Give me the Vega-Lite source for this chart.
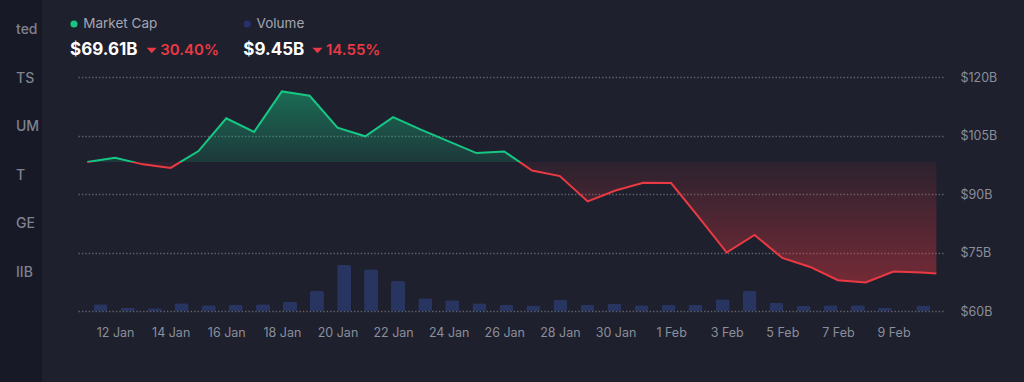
{
  "$schema": "https://vega.github.io/schema/vega-lite/v6.json",
  "background": "#1e202d",
  "padding": {"left": 0, "top": 0, "right": 28, "bottom": 0},
  "bounds": "flush",
  "spacing": 36,
  "config": {
    "view": {"stroke": null},
    "font": "Inter",
    "text": {"font": "Inter"}
  },
  "datasets": {
    "sidebar": [
      {"label": "ted"}, {"label": "TS"}, {"label": "UM"}, {"label": "T"}, {"label": "GE"}, {"label": "IIB"}
    ],
    "header": [
      {"series": "Market Cap", "value": "$69.61B", "change": "30.40%"},
      {"series": "Volume", "value": "$9.45B", "change": "14.55%"}
    ],
    "mcap": [
      {"date": "2025-01-11T00:00", "mcap": 98.2},
      {"date": "2025-01-12T00:00", "mcap": 99.3},
      {"date": "2025-01-13T00:00", "mcap": 97.6},
      {"date": "2025-01-14T00:00", "mcap": 96.7},
      {"date": "2025-01-15T00:00", "mcap": 101.0},
      {"date": "2025-01-16T00:00", "mcap": 109.4},
      {"date": "2025-01-17T00:00", "mcap": 105.9},
      {"date": "2025-01-18T00:00", "mcap": 116.3},
      {"date": "2025-01-19T00:00", "mcap": 115.2},
      {"date": "2025-01-20T00:00", "mcap": 107.0},
      {"date": "2025-01-21T00:00", "mcap": 104.8},
      {"date": "2025-01-22T00:00", "mcap": 109.7},
      {"date": "2025-01-23T00:00", "mcap": 106.5},
      {"date": "2025-01-24T00:00", "mcap": 103.5},
      {"date": "2025-01-25T00:00", "mcap": 100.5},
      {"date": "2025-01-26T00:00", "mcap": 100.9},
      {"date": "2025-01-27T00:00", "mcap": 96.0},
      {"date": "2025-01-28T00:00", "mcap": 94.6},
      {"date": "2025-01-29T00:00", "mcap": 88.1},
      {"date": "2025-01-30T00:00", "mcap": 90.9},
      {"date": "2025-01-31T00:00", "mcap": 92.9},
      {"date": "2025-02-01T00:00", "mcap": 92.8},
      {"date": "2025-02-02T00:00", "mcap": 84.0},
      {"date": "2025-02-03T00:00", "mcap": 75.0},
      {"date": "2025-02-04T00:00", "mcap": 79.5},
      {"date": "2025-02-05T00:00", "mcap": 73.6},
      {"date": "2025-02-06T00:00", "mcap": 71.3},
      {"date": "2025-02-07T00:00", "mcap": 67.9},
      {"date": "2025-02-08T00:00", "mcap": 67.3},
      {"date": "2025-02-09T00:00", "mcap": 70.1},
      {"date": "2025-02-10T00:00", "mcap": 69.9},
      {"date": "2025-02-10T13:00", "mcap": 69.61}
    ],
    "volume": [
      {"date": "2025-01-11T11:30", "vol": 11.5},
      {"date": "2025-01-12T11:00", "vol": 5.6},
      {"date": "2025-01-13T10:15", "vol": 4.6},
      {"date": "2025-01-14T09:30", "vol": 13.2},
      {"date": "2025-01-15T09:00", "vol": 9.7},
      {"date": "2025-01-16T08:15", "vol": 10.3},
      {"date": "2025-01-17T07:45", "vol": 11.5},
      {"date": "2025-01-18T07:00", "vol": 15.9},
      {"date": "2025-01-19T06:15", "vol": 34.2},
      {"date": "2025-01-20T05:45", "vol": 78.6},
      {"date": "2025-01-21T05:00", "vol": 71.3},
      {"date": "2025-01-22T04:15", "vol": 51.3},
      {"date": "2025-01-23T03:45", "vol": 21.7},
      {"date": "2025-01-24T03:00", "vol": 18.3},
      {"date": "2025-01-25T02:30", "vol": 13.2},
      {"date": "2025-01-26T01:45", "vol": 10.3},
      {"date": "2025-01-27T01:00", "vol": 9.4},
      {"date": "2025-01-28T00:30", "vol": 18.8},
      {"date": "2025-01-28T23:45", "vol": 10.3},
      {"date": "2025-01-29T23:00", "vol": 12.5},
      {"date": "2025-01-30T22:30", "vol": 9.7},
      {"date": "2025-01-31T21:45", "vol": 10.8},
      {"date": "2025-02-01T21:00", "vol": 10.8},
      {"date": "2025-02-02T20:30", "vol": 20.0},
      {"date": "2025-02-03T19:45", "vol": 34.2},
      {"date": "2025-02-04T19:00", "vol": 14.2},
      {"date": "2025-02-05T18:30", "vol": 9.1},
      {"date": "2025-02-06T17:45", "vol": 9.7},
      {"date": "2025-02-07T17:15", "vol": 9.7},
      {"date": "2025-02-08T16:30", "vol": 5.6},
      {"date": "2025-02-10T01:45", "vol": 9.45}
    ]
  },
  "hconcat": [
    {
      "width": 42,
      "height": 382,
      "view": {"fill": "#171926", "stroke": null},
      "data": {"name": "sidebar"},
      "mark": {"type": "text", "align": "left", "baseline": "middle", "dx": -5, "fontSize": 14, "fontWeight": 500, "color": "#7f8290"},
      "encoding": {
        "y": {"field": "label", "type": "nominal", "sort": null, "axis": null, "scale": {"type": "point", "range": [30, 273], "padding": 0}},
        "text": {"field": "label"}
      }
    },
    {
      "bounds": "flush",
      "spacing": 7,
      "vconcat": [
        {
          "width": 865,
          "height": 70,
          "data": {"name": "header"},
          "layer": [
            {
              "mark": {"type": "circle", "size": 50, "opacity": 1, "yOffset": -11},
              "encoding": {
                "x": {"field": "series", "type": "nominal", "sort": null, "axis": null, "scale": {"type": "point", "range": [-4, 169.3], "padding": 0}},
                "color": {"field": "series", "type": "nominal", "legend": null, "scale": {"domain": ["Market Cap", "Volume"], "range": ["#16c784", "#27306a"]}}
              }
            },
            {
              "mark": {"type": "text", "align": "left", "baseline": "middle", "dx": 9.3, "dy": -11, "fontSize": 13.5, "color": "#a3a6b2"},
              "encoding": {
                "x": {"field": "series", "type": "nominal", "sort": null, "axis": null, "scale": {"type": "point", "range": [-4, 169.3], "padding": 0}},
                "text": {"field": "series"}
              }
            },
            {
              "mark": {"type": "text", "align": "left", "baseline": "middle", "dx": -4, "dy": 15, "fontSize": 17, "fontWeight": "bold", "color": "#ffffff"},
              "encoding": {
                "x": {"field": "series", "type": "nominal", "sort": null, "axis": null, "scale": {"type": "point", "range": [-4, 169.3], "padding": 0}},
                "text": {"field": "value"}
              }
            },
            {
              "encoding": {
                "x": {"field": "series", "type": "nominal", "sort": null, "axis": null, "scale": {"type": "point", "range": [73.7, 239.5], "padding": 0}}
              },
              "layer": [
                {"mark": {"type": "point", "shape": "M-1,-0.55L1,-0.55L0,0.55Z", "size": 100, "filled": true, "color": "#ea3943", "opacity": 1, "yOffset": 15.5}},
                {
                  "mark": {"type": "text", "align": "left", "baseline": "middle", "dx": 8.5, "dy": 15, "fontSize": 15, "fontWeight": 600, "color": "#ea3943"},
                  "encoding": {"text": {"field": "change"}}
                }
              ]
            }
          ],
          "resolve": {"scale": {"x": "independent"}}
        },
        {
          "width": 865,
          "height": 234,
          "encoding": {
            "x": {
              "field": "date",
              "type": "temporal",
              "scale": {"nice": false, "padding": 0, "domain": [{"year": 2025, "month": 1, "date": 10, "hours": 16}, {"year": 2025, "month": 2, "date": 10, "hours": 18, "minutes": 43}]},
              "axis": {
                "title": null,
                "values": [
                  {"year": 2025, "month": 1, "date": 12}, {"year": 2025, "month": 1, "date": 14}, {"year": 2025, "month": 1, "date": 16},
                  {"year": 2025, "month": 1, "date": 18}, {"year": 2025, "month": 1, "date": 20}, {"year": 2025, "month": 1, "date": 22},
                  {"year": 2025, "month": 1, "date": 24}, {"year": 2025, "month": 1, "date": 26}, {"year": 2025, "month": 1, "date": 28},
                  {"year": 2025, "month": 1, "date": 30}, {"year": 2025, "month": 2, "date": 1}, {"year": 2025, "month": 2, "date": 3},
                  {"year": 2025, "month": 2, "date": 5}, {"year": 2025, "month": 2, "date": 7}, {"year": 2025, "month": 2, "date": 9}
                ],
                "format": "%-d %b",
                "labelColor": "#8b8e9b",
                "labelFontSize": 12.5,
                "labelFont": "Inter",
                "labelPadding": 15,
                "ticks": false,
                "domain": false,
                "grid": false,
                "labelOverlap": false
              }
            }
          },
          "layer": [
            {
              "data": {"name": "volume"},
              "mark": {"type": "bar", "width": 14, "color": "#283561", "cornerRadiusTopLeft": 2, "cornerRadiusTopRight": 2},
              "encoding": {
                "y": {"field": "vol", "type": "quantitative", "scale": {"domain": [0, 400]}, "axis": null}
              }
            },
            {
              "data": {"name": "mcap"},
              "encoding": {
                "y": {
                  "field": "mcap",
                  "type": "quantitative",
                  "scale": {"domain": [60, 120]},
                  "axis": {
                    "title": null,
                    "orient": "right",
                    "values": [60, 75, 90, 105, 120],
                    "labelExpr": "'$' + datum.value + 'B'",
                    "labelColor": "#8b8e9b",
                    "labelFontSize": 12.5,
                    "labelFont": "Inter",
                    "labelPadding": 17,
                    "ticks": false,
                    "domain": false,
                    "grid": true,
                    "gridDash": [1.4, 2],
                    "gridColor": "#a3a6b0",
                    "gridOpacity": 0.5,
                    "gridWidth": 1.3
                  }
                }
              },
              "layer": [
                {
                  "mark": {
                    "type": "area",
                    "color": {
                      "gradient": "linear", "x1": 0, "y1": 0, "x2": 0, "y2": 1,
                      "stops": [
                        {"offset": 0, "color": "rgba(22,199,132,0.45)"},
                        {"offset": 0.3694, "color": "rgba(22,199,132,0.15)"},
                        {"offset": 0.3694, "color": "rgba(234,57,67,0.07)"},
                        {"offset": 1, "color": "rgba(234,57,67,0.42)"}
                      ]
                    }
                  },
                  "encoding": {"y2": {"datum": 98.2}}
                },
                {
                  "mark": {
                    "type": "line",
                    "strokeWidth": 2,
                    "color": {
                      "gradient": "linear", "x1": 0, "y1": 0, "x2": 0, "y2": 1,
                      "stops": [
                        {"offset": 0, "color": "#16c784"},
                        {"offset": 0.3694, "color": "#16c784"},
                        {"offset": 0.3694, "color": "#ea3943"},
                        {"offset": 1, "color": "#ea3943"}
                      ]
                    }
                  }
                }
              ]
            }
          ],
          "resolve": {"scale": {"y": "independent"}}
        }
      ]
    }
  ]
}
